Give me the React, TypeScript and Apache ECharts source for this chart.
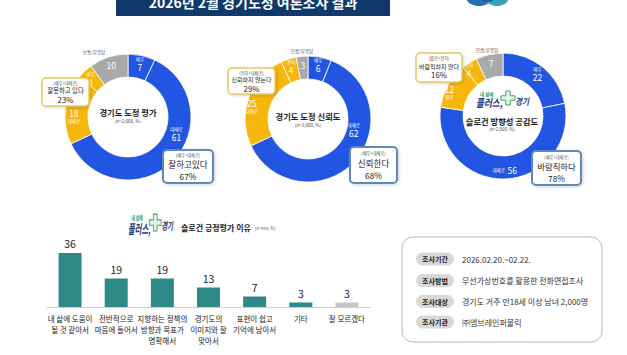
import React, { useEffect, useRef } from "react";
import * as echarts from "echarts";

const FONT = '"Noto Sans CJK KR", "Noto Sans", sans-serif';

// ---- data ----
const evalNames = ["매우", "대체로", "대체로", "매우", "보통/무응답"];
const evalValues = [7, 61, 18, 4, 10];
const trustNames = ["매우", "대체로", "대체로", "전혀", "모름/무응답"];
const trustValues = [6, 62, 25, 4, 3];
const sloganNames = ["매우", "대체로", "별로", "전혀", "모름/무응답"];
const sloganValues = [22, 56, 12, 4, 7];

const evalNeg = ["(매우+대체로)", "잘못하고 있다", "23%"];
const evalPos = ["(매우+대체로)", "잘하고있다", "67%"];
const trustNeg = ["(전혀+대체로)", "신뢰하지 않는다", "29%"];
const trustPos = ["(매우+대체로)", "신뢰한다", "68%"];
const sloganNeg = ["(별로+전혀)", "바람직하지 않다", "16%"];
const sloganPos = ["(매우+대체로)", "바람직하다", "78%"];

const reasonCategories = [
  "내 삶에 도움이\n될 것 같아서",
  "전반적으로\n마음에 들어서",
  "지향하는 정책의\n방향과 목표가\n명확해서",
  "경기도의\n이미지와 잘\n맞아서",
  "표현이 쉽고\n기억에 남아서",
  "기타",
  "잘 모르겠다",
];
const reasonValues = [36, 19, 19, 13, 7, 3, 3];

const surveyKeys = ["조사기간", "조사방법", "조사대상", "조사기관"];
const surveyTexts = [
  "2026.02.20.~02.22.",
  "무선가상번호를 활용한 전화면접조사",
  "경기도 거주 만18세 이상 남녀 2,000명",
  "㈜엠브레인퍼블릭",
];

const pageTitle = "2026년 2월 경기도정 여론조사 결과";

// ---- styling helpers ----
const BLUE = "#2155e2";
const YELLOW = "#f6b60c";
const GRAY = "#a9a9a9";
const segColors = [BLUE, BLUE, YELLOW, YELLOW, GRAY];

const fmtNV = "{n|{b}}\n{v|{c}}";
const fmtVN = "{v|{c}}\n{n|{b}}";
const fmtV = "{v|{c}}";
const fmtInline = "{n|{b}} {v|{c}}";

function txt(x: number, y: number, s: string, size: number, o: any = {}) {
  return {
    type: "text",
    silent: true,
    z: o.z ?? 20,
    style: {
      text: s,
      x,
      y,
      fontSize: size,
      fontFamily: FONT,
      fontWeight: o.weight ?? "normal",
      fontStyle: o.style ?? "normal",
      fill: o.color ?? "#222",
      align: o.align ?? "center",
      textAlign: o.align ?? "center",
      verticalAlign: "middle",
      textVerticalAlign: "middle",
    },
  };
}

function callout(x: number, y: number, w: number, h: number, lines: string[], pos: boolean, sizes: number[], ys: number[]) {
  const cx = x + w / 2;
  return [
    {
      type: "rect",
      silent: true,
      z: 15,
      shape: { x, y, width: w, height: h, r: 4 },
      style: {
        fill: "#ffffff",
        stroke: pos ? "#5b8bbb" : "#e9c862",
        lineWidth: pos ? 2 : 1.5,
        shadowBlur: 3,
        shadowColor: "rgba(0,0,0,0.18)",
        shadowOffsetX: 1,
        shadowOffsetY: 1,
      },
    },
    txt(cx, ys[0], lines[0], sizes[0], { color: "#555" }),
    txt(cx, ys[1], lines[1], sizes[1], { color: "#222" }),
    txt(cx, ys[2], lines[2], sizes[2], { color: "#222" }),
  ];
}

function plusPts(cx: number, cy: number, a: number, L: number) {
  return [
    [cx - a, cy - L], [cx + a, cy - L], [cx + a, cy - a], [cx + L, cy - a],
    [cx + L, cy + a], [cx + a, cy + a], [cx + a, cy + L], [cx - a, cy + L],
    [cx - a, cy + a], [cx - L, cy + a], [cx - L, cy - a], [cx - a, cy - a],
  ];
}

function logo(x: number, y: number, sx: number, sy: number) {
  const navy = "#1d3c7c";
  return {
    type: "group",
    x,
    y,
    scaleX: sx,
    scaleY: sy,
    silent: true,
    z: 20,
    children: [
      { type: "text", style: { text: "내 삶에", x: 4, y: 4, fontSize: 4.5, fontFamily: FONT, fontWeight: "bold", fill: "#2f9a55", verticalAlign: "middle", textVerticalAlign: "middle" } },
      {
        type: "text",
        scaleX: 0.78,
        style: { text: "플러스,", x: 0, y: 13, fontSize: 11, fontFamily: FONT, fontWeight: "bold", fontStyle: "italic", fill: navy, verticalAlign: "middle", textVerticalAlign: "middle" },
      },
      { type: "polygon", shape: { points: plusPts(32, 8, 2.2, 7) }, style: { fill: "#e6f5ea", stroke: "#39a65a", lineWidth: 1 } },
      {
        type: "text",
        x: 39,
        scaleX: 0.85,
        style: { text: "경기", x: 0, y: 11, fontSize: 9, fontFamily: FONT, fontWeight: "bold", fontStyle: "italic", fill: navy, verticalAlign: "middle", textVerticalAlign: "middle" },
      },
    ],
  };
}

function donut(center: number[], names: string[], values: number[], fmts: string[], adjust: Record<number, { dx: number; dy: number }>) {
  return {
    type: "pie",
    center,
    radius: [40, 63],
    startAngle: 90,
    clockwise: true,
    silent: true,
    avoidLabelOverlap: false,
    itemStyle: { borderColor: "#ffffff", borderWidth: 0.8 },
    label: {
      show: true,
      position: "inside",
      color: "#fff",
      fontFamily: FONT,
      rich: {
        n: { fontSize: 4.5, color: "#ffffff", lineHeight: 6, fontFamily: FONT },
        v: { fontSize: 8.5, color: "#ffffff", lineHeight: 10, fontFamily: FONT },
      },
    },
    labelLine: { show: false },
    labelLayout: (p: any) => adjust[p.dataIndex] || {},
    data: values.map((v, i) => ({
      value: v,
      name: names[i],
      itemStyle: { color: segColors[i] },
      label: { formatter: fmts[i] },
    })),
  };
}

export default function App() {
  const ref = useRef<HTMLDivElement>(null);

  useEffect(() => {
    document.body.style.margin = "0";
    const chart = echarts.init(ref.current!, null, { renderer: "svg" });

    const graphic: any[] = [
      // title bar
      { type: "rect", silent: true, shape: { x: 116, y: 0, width: 274, height: 16 }, style: { fill: "#10386b" } },
      txt(253, 2, pageTitle, 14, { color: "#ffffff", weight: "bold" }),
      // top-right logo fragment
      { type: "ellipse", silent: true, shape: { cx: 479, cy: -3, rx: 13, ry: 9 }, style: { fill: "#2a6db3" } },
      { type: "ellipse", silent: true, shape: { cx: 497, cy: -3, rx: 12, ry: 9 }, style: { fill: "#3aa0b4" } },
      { type: "ellipse", silent: true, shape: { cx: 488, cy: -4, rx: 8, ry: 6 }, style: { fill: "#1f5aa0" } },

      // donut centre texts
      txt(128, 112, "경기도 도정 평가", 8.3, { weight: "bold" }),
      txt(128, 121, "(n=2,000, %)", 4.5, { color: "#444" }),
      txt(308, 116, "경기도 도정 신뢰도", 8.3, { weight: "bold" }),
      txt(308, 125, "(n=2,000, %)", 4.5, { color: "#444" }),
      logo(476, 90, 1, 1),
      txt(502, 121, "슬로건 방향성 공감도", 8.3, { weight: "bold" }),
      txt(502, 129, "(n=2,000, %)", 4.5, { color: "#444" }),

      // outside small labels
      txt(94, 52, evalNames[4], 4.5, { color: "#444" }),
      txt(302, 51, trustNames[4], 4.5, { color: "#444" }),
      txt(487, 50, sloganNames[4], 4.5, { color: "#444" }),

      // callouts
      ...callout(42, 78, 47, 28, evalNeg, false, [4.2, 6.4, 7.8], [83, 90.5, 99.5]),
      ...callout(163, 150, 50, 33, evalPos, true, [4.2, 8.6, 8.3], [155, 164.3, 176]),
      ...callout(228, 68, 47, 26, trustNeg, false, [4.2, 6, 7.8], [72.8, 79.8, 88.3]),
      ...callout(350, 147, 47, 36, trustPos, true, [4.2, 8.6, 8.3], [153, 162.5, 174.5]),
      ...callout(416, 53, 46, 29, sloganNeg, false, [4.2, 6, 7.8], [58.3, 66, 74.8]),
      ...callout(532, 151, 49, 34, sloganPos, true, [4.2, 8.4, 8.3], [157, 166, 177.8]),

      // bar chart header
      logo(128, 213, 0.85, 1.2),
      txt(181, 227, "슬로건 긍정평가 이유", 8, { weight: "bold", align: "left" }),
      txt(255, 228, "(n=988, %)", 4.2, { color: "#555", align: "left" }),

      // survey info box
      {
        type: "rect",
        silent: true,
        shape: { x: 402, y: 237, width: 200, height: 105, r: 11 },
        style: { fill: "#ffffff", stroke: "#b9b9b9", lineWidth: 1 },
      },
    ];

    const rowYs = [259, 280.5, 301.5, 322];
    surveyKeys.forEach((k, i) => {
      graphic.push({
        type: "rect",
        silent: true,
        z: 18,
        shape: { x: 416, y: rowYs[i] - 6.5, width: 38, height: 13, r: 6.5 },
        style: { fill: "#d8d8d8" },
      });
      graphic.push(txt(435, rowYs[i], k, 7, { weight: "bold" }));
      graphic.push(txt(462, rowYs[i], surveyTexts[i], 8, { color: "#333", align: "left" }));
    });

    chart.setOption({
      animation: false,
      textStyle: { fontFamily: FONT },
      grid: { left: 47, top: 247, width: 323, height: 60, containLabel: false },
      xAxis: {
        type: "category",
        data: reasonCategories,
        axisLine: { lineStyle: { color: "#cfcfcf", width: 1 } },
        axisTick: { show: false },
        axisLabel: { interval: 0, fontSize: 7.5, color: "#222", lineHeight: 11, margin: 6, fontFamily: FONT },
      },
      yAxis: { type: "value", min: 0, max: 40, show: false, splitLine: { show: false } },
      series: [
        donut([128, 117], evalNames, evalValues, [fmtNV, fmtNV, fmtVN, fmtNV, fmtV], { 1: { dx: 10, dy: -22 }, 2: { dx: 0, dy: 6 }, 3: { dx: 0, dy: 2 } }),
        donut([308, 119], trustNames, trustValues, [fmtNV, fmtNV, fmtVN, fmtNV, fmtV], { 1: { dx: 6, dy: -26 }, 2: { dx: -5, dy: 5 } }),
        donut([503, 116], sloganNames, sloganValues, [fmtNV, fmtInline, fmtVN, fmtNV, fmtV], { 2: { dx: -6, dy: 3 }, 3: { dx: -5, dy: 0 } }),
        {
          type: "bar",
          silent: true,
          barWidth: 23,
          data: reasonValues.map((v, i) => ({
            value: v,
            itemStyle: { color: i === reasonValues.length - 1 ? "#c6c6c6" : "#2f8a87" },
          })),
          label: { show: true, position: "top", distance: 4, fontSize: 10.5, color: "#222", fontFamily: FONT },
        },
      ],
      graphic,
    });

    return () => chart.dispose();
  }, []);

  return <div ref={ref} style={{ width: 627, height: 355 }} />;
}
